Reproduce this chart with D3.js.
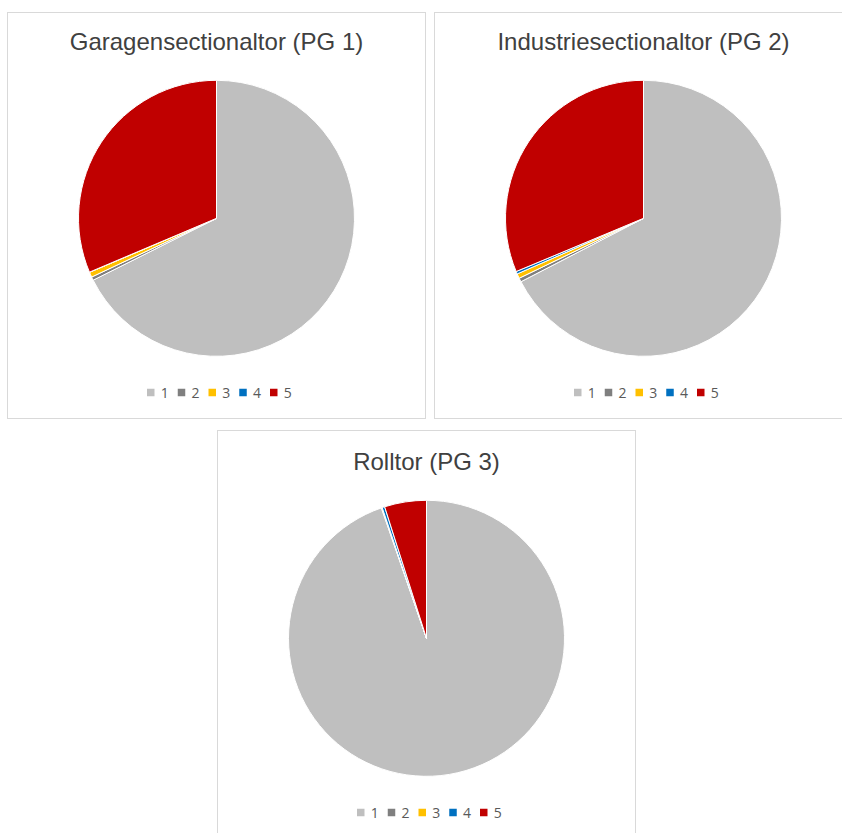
<!DOCTYPE html>
<html>
<head>
<meta charset="utf-8">
<script src="https://cdn.jsdelivr.net/npm/d3@7"></script>
<style>
  html, body { margin: 0; padding: 0; background: #ffffff; }
  svg { display: block; }
</style>
</head>
<body>
<svg id="chart" width="842" height="833"></svg>
<script>
// ---- Data ----
const categories = ["1", "2", "3", "4", "5"];
const titles = ["Garagensectionaltor (PG 1)", "Industriesectionaltor (PG 2)", "Rolltor (PG 3)"];
const valuesPG1 = [67.6, 0.4, 0.6, 0.02, 31.38];
const valuesPG2 = [67.4, 0.45, 0.55, 0.3, 31.3];
const valuesPG3 = [94.7, 0.05, 0.05, 0.3, 4.9];
const seriesColors = ["#BFBFBF", "#7F7F7F", "#FFC000", "#0070C0", "#C00000"];

// ---- Layout ----
const panels = [
  { values: valuesPG1, title: titles[0], bx: 7.5,   by: 12.5,  w: 418, h: 406, cy0: 12 },
  { values: valuesPG2, title: titles[1], bx: 434.5, by: 12.5,  w: 418, h: 406, cy0: 12 },
  { values: valuesPG3, title: titles[2], bx: 217.5, by: 430.5, w: 418, h: 406, cy0: 432 }
];

const svg = d3.select("#chart");
const color = d3.scaleOrdinal().domain(categories).range(seriesColors);
const pie = d3.pie().sort(null).value(d => d.v).startAngle(0).endAngle(2 * Math.PI);
const radius = 138;
const arc = d3.arc().innerRadius(0).outerRadius(radius);

panels.forEach(p => {
  const g = svg.append("g");
  g.append("rect")
    .attr("x", p.bx).attr("y", p.by)
    .attr("width", p.w).attr("height", p.h)
    .attr("fill", "#ffffff")
    .attr("stroke", "#D9D9D9").attr("stroke-width", 1);

  const cx = p.bx + p.w / 2;

  g.append("text")
    .attr("x", cx).attr("y", p.cy0 + 38)
    .attr("text-anchor", "middle")
    .attr("font-family", "'Liberation Sans', Arial, sans-serif")
    .attr("font-size", 24)
    .attr("fill", "#404040")
    .text(p.title);

  const data = categories.map((c, i) => ({ c, v: p.values[i] }));
  const pg = g.append("g").attr("transform", `translate(${cx},${p.cy0 + 206.3})`);
  pg.selectAll("path")
    .data(pie(data))
    .join("path")
    .attr("d", arc)
    .attr("fill", d => color(d.data.c))
    .attr("stroke", "#ffffff")
    .attr("stroke-width", 1)
    .attr("stroke-linejoin", "round");

  // Legend
  const step = 30.75;
  const lx0 = cx - 69.5;
  const ly = p.cy0 + 380.5;
  const lg = g.append("g");
  categories.forEach((c, i) => {
    const x = lx0 + i * step;
    lg.append("rect")
      .attr("x", x).attr("y", ly - 3.75)
      .attr("width", 7.5).attr("height", 7.5)
      .attr("fill", color(c));
    lg.append("text")
      .attr("x", x + 13.8).attr("y", ly + 5.8)
      .attr("font-family", "'Open Sans', 'Noto Sans', sans-serif")
      .attr("font-size", 14)
      .attr("fill", "#595959")
      .text(c);
  });
});
</script>
</body>
</html>
